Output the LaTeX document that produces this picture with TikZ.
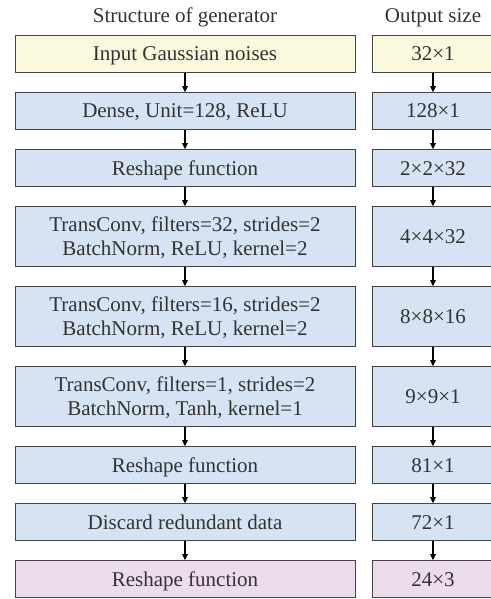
\documentclass[tikz,border=0pt]{standalone}
\usepackage{fontspec}
\setmainfont{Liberation Serif}
\usepackage{xcolor}
\usetikzlibrary{positioning, arrows.meta}

\definecolor{noiseyellow}{RGB}{250,248,221}
\definecolor{layerblue}{RGB}{213,227,243}
\definecolor{outpink}{RGB}{237,220,236}
\definecolor{boxgray}{RGB}{68,68,68}
\definecolor{textgray}{RGB}{51,51,51}

\begin{document}
\begin{tikzpicture}[
					node distance=9.7pt,
					font=\fontsize{10.5}{11.6}\selectfont,
					% --- Styles ---
					genblock/.style={
						rectangle, draw=boxgray, line width=0.5pt, fill=layerblue, text=textgray,
						minimum width=170pt, minimum height=18.8pt, inner sep=0pt, outer sep=0pt,
						text height=8.2pt, text depth=1.2pt, align=center
					},
					tallblock/.style={
						genblock, minimum height=30.3pt, text height=19.8pt
					},
					sizeblock/.style={
						genblock, minimum width=61pt
					},
					header/.style={
						inner sep=0pt, text=textgray
					},
					line/.style={
						draw, -{Triangle[length=3pt, width=2.8pt]}, line width=0.6pt, color=black
					}
					]
					\useasboundingbox (0,0) rectangle (245.5pt,-299.5pt);
					
					% --- 1. Generator column ---
					\node [genblock, fill=noiseyellow] (gen1) at (92.5pt,-27pt) {Input Gaussian noises};
					\node [genblock, below=of gen1] (gen2) {Dense, Unit=128, ReLU};
					\node [genblock, below=of gen2] (gen3) {Reshape function};
					\node [tallblock, below=of gen3] (gen4) {TransConv, filters=32, strides=2\\BatchNorm, ReLU, kernel=2};
					\node [tallblock, below=of gen4] (gen5) {TransConv, filters=16, strides=2\\BatchNorm, ReLU, kernel=2};
					\node [tallblock, below=of gen5] (gen6) {TransConv, filters=1, strides=2\\BatchNorm, Tanh, kernel=1};
					\node [genblock, below=of gen6] (gen7) {Reshape function};
					\node [genblock, below=of gen7] (gen8) {Discard redundant data};
					\node [genblock, fill=outpink, below=of gen8] (gen9) {Reshape function};
					
					% --- 2. Output size column ---
					% Each one sits right of its layer so the rows line up
					\node [sizeblock, fill=noiseyellow, right=8.5pt of gen1] (out1) {32×1};
					\node [sizeblock, right=8.5pt of gen2] (out2) {128×1};
					\node [sizeblock, right=8.5pt of gen3] (out3) {2×2×32};
					\node [sizeblock, minimum height=30.3pt, right=8.5pt of gen4] (out4) {4×4×32};
					\node [sizeblock, minimum height=30.3pt, right=8.5pt of gen5] (out5) {8×8×16};
					\node [sizeblock, minimum height=30.3pt, right=8.5pt of gen6] (out6) {9×9×1};
					\node [sizeblock, right=8.5pt of gen7] (out7) {81×1};
					\node [sizeblock, right=8.5pt of gen8] (out8) {72×1};
					\node [sizeblock, fill=outpink, right=8.5pt of gen9] (out9) {24×3};
					
					% --- Headers ---
					\node [header, above=3.9pt of gen1] (gen_title) {Structure of generator};
					\node [header, above=3.9pt of out1] (out_title) {Output size};
					
					% --- Connections ---
					\foreach \i [evaluate=\i as \j using int(\i+1)] in {1,...,8} {
						\draw [line] (gen\i) -- (gen\j);
						\draw [line] (out\i) -- (out\j);
					}
					
				\end{tikzpicture}
\end{document}
